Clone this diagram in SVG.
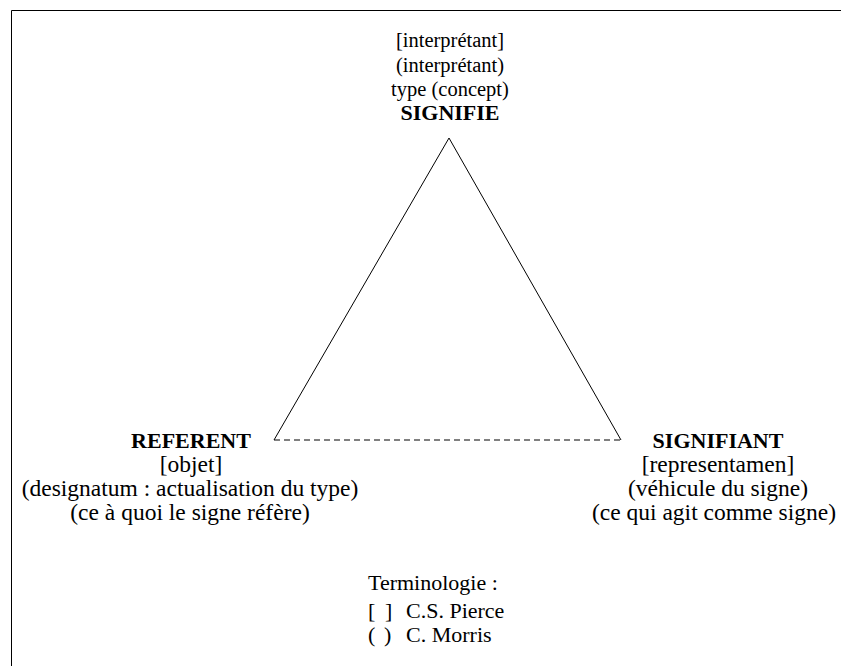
<svg xmlns="http://www.w3.org/2000/svg" width="841" height="666" viewBox="0 0 841 666">
<style>
text{fill:#000;text-anchor:middle}
.t{font-size:20.5px}
.n{font-size:23.5px}
.b{font-weight:bold;font-size:22px}
.g{font-size:22px;text-anchor:start}
.e{stroke:#000;stroke-width:1;fill:none}
</style>
<rect width="841" height="666" fill="#fff"/>
<path class="e" d="M11.5,666 V10.5 H841" stroke-width="1.5"/>
<g id="connectors">
<line class="e" x1="449" y1="138" x2="274" y2="440"/>
<line class="e" x1="449" y1="138" x2="621" y2="440"/>
<line class="e" x1="274" y1="440" x2="621" y2="440" stroke-dasharray="6,4"/>
</g>
<g id="signifie">
<text x="450" y="47" class="t" font-family="Liberation Serif">[interprétant]</text>
<text x="450" y="72" class="t" font-family="Liberation Serif">(interprétant)</text>
<text x="450" y="96" class="t" font-family="Liberation Serif">type (concept)</text>
<text x="450" y="120" class="b" font-family="Liberation Serif">SIGNIFIE</text>
</g>
<g id="referent">
<text x="191" y="448" class="b" font-family="Liberation Serif">REFERENT</text>
<text x="191" y="472" class="n" font-family="Liberation Serif">[objet]</text>
<text x="190" y="496" class="n" font-family="Liberation Serif">(designatum : actualisation du type)</text>
<text x="190" y="520" class="n" font-family="Liberation Serif">(ce à quoi le signe réfère)</text>
</g>
<g id="signifiant">
<text x="718" y="448" class="b" font-family="Liberation Serif">SIGNIFIANT</text>
<text x="718" y="472" class="n" font-family="Liberation Serif">[representamen]</text>
<text x="718" y="496" class="n" font-family="Liberation Serif">(véhicule du signe)</text>
<text x="714" y="520" class="n" font-family="Liberation Serif">(ce qui agit comme signe)</text>
</g>
<g id="legend">
<text x="368" y="590" class="g" font-family="Liberation Serif">Terminologie :</text>
<text x="368" y="618" class="g" font-family="Liberation Serif">[</text>
<text x="385" y="618" class="g" font-family="Liberation Serif">]</text>
<text x="406" y="618" class="g" font-family="Liberation Serif">C.S. Pierce</text>
<text x="368" y="642" class="g" font-family="Liberation Serif">(</text>
<text x="384" y="642" class="g" font-family="Liberation Serif">)</text>
<text x="406" y="642" class="g" font-family="Liberation Serif">C. Morris</text>
</g>
</svg>
